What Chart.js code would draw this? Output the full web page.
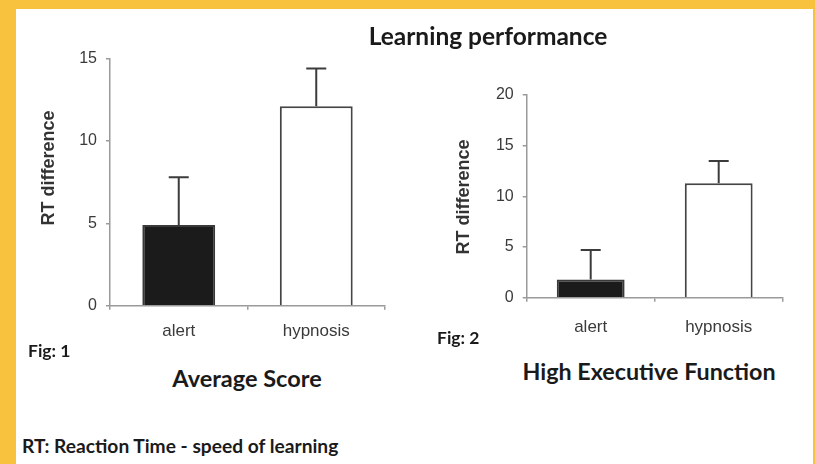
<!DOCTYPE html>
<html>
<head>
<meta charset="utf-8">
<script src="https://cdn.jsdelivr.net/npm/chart.js@4.4.1/dist/chart.umd.min.js"></script>
<style>
  html, body { margin: 0; padding: 0; }
  body { width: 815px; height: 464px; background: #f9c23e; position: relative; overflow: hidden; }
  #panel { position: absolute; left: 16px; top: 9px; width: 797px; height: 455px; background: #fff; }
  .box { position: absolute; }
  .txt { position: absolute; font-family: Lato, "Open Sans", sans-serif; font-weight: bold; color: #1a1a1a; white-space: nowrap; }
  .c { transform: translate(-50%, -50%); }
  .l { transform: translate(0, -50%); }
  .ytitle { position: absolute; font-family: "Liberation Sans", Arial, sans-serif; font-weight: bold; font-size: 18px; color: #333; white-space: nowrap; transform: translate(-50%, -50%) rotate(-90deg); }
</style>
</head>
<body>
<div id="panel"></div>
<div class="box" style="left:20px; top:40px; width:380px; height:310px;"><canvas id="fig1"></canvas></div>
<div class="box" style="left:430px; top:70px; width:380px; height:280px;"><canvas id="fig2"></canvas></div>

<div class="ytitle" style="left:48px; top:168px;">RT difference</div>
<div class="ytitle" style="left:463px; top:197px;">RT difference</div>

<div class="txt c" style="left:488px; top:35px; font-size:24.5px;">Learning performance</div>
<div class="txt l" style="left:28px; top:350px; font-size:17.5px;">Fig: 1</div>
<div class="txt l" style="left:437px; top:337px; font-size:17.5px;">Fig: 2</div>
<div class="txt c" style="left:247px; top:378px; font-size:23.5px;">Average Score</div>
<div class="txt c" style="left:649px; top:371px; font-size:23.3px;">High Executive Function</div>
<div class="txt l" style="left:22px; top:445px; font-size:19.2px;">RT: Reaction Time - speed of learning</div>

<script>
// données
const groups = ['alert', 'hypnosis'];

// Fig 1 : Average Score
const avgMeans = [4.9, 12.1];
const avgErr = [2.9, 2.3];
const avgTicks = [0, 5, 10, 15];

// Fig 2 : High Executive Function
const highMeans = [1.8, 11.3];
const highErr = [2.9, 2.2];
const highTicks = [0, 5, 10, 15, 20];

const barFill = ['#1b1b1b', '#ffffff'];
const barEdge = ['#3a3a3a', '#454545'];
const axisGrey = '#9a9a9a';

// barres d'erreur (vers le haut seulement)
const errorBars = {
  id: 'errorBars',
  afterDatasetsDraw(chart, args, opts) {
    const { ctx } = chart;
    const y = chart.scales.y;
    const meta = chart.getDatasetMeta(0);
    ctx.save();
    ctx.strokeStyle = '#3c3c3c';
    ctx.lineWidth = 2;
    meta.data.forEach((bar, i) => {
      const top = y.getPixelForValue(opts.means[i] + opts.errors[i]);
      ctx.beginPath();
      ctx.moveTo(bar.x, bar.y);
      ctx.lineTo(bar.x, top);
      ctx.moveTo(bar.x - 10, top);
      ctx.lineTo(bar.x + 10, top);
      ctx.stroke();
    });
    ctx.restore();
  }
};

function makeChart(id, means, errors, ticks, pad, yWidth, xHeight, labelPad) {
  return new Chart(document.getElementById(id), {
    type: 'bar',
    data: {
      labels: groups,
      datasets: [{
        data: means,
        backgroundColor: barFill,
        borderColor: barEdge,
        borderWidth: 2,
        barPercentage: 0.53,
        categoryPercentage: 1
      }]
    },
    options: {
      responsive: true,
      maintainAspectRatio: false,
      animation: false,
      events: [],
      layout: { padding: pad },
      plugins: {
        legend: { display: false },
        tooltip: { enabled: false },
        errorBars: { means: means, errors: errors }
      },
      scales: {
        x: {
          grid: { display: true, drawOnChartArea: false, drawTicks: true, tickLength: 4, color: axisGrey, lineWidth: 1.5 },
          border: { display: true, color: axisGrey, width: 1.5 },
          ticks: { color: '#3a3a3a', padding: labelPad, font: { family: '"Liberation Sans", Arial', size: 17 } },
          afterFit: s => { s.height = xHeight; }
        },
        y: {
          min: ticks[0],
          max: ticks[ticks.length - 1],
          afterBuildTicks: s => { s.ticks = ticks.map(v => ({ value: v })); },
          grid: { display: true, drawOnChartArea: false, drawTicks: true, tickLength: 4, color: axisGrey, lineWidth: 1.5 },
          border: { display: true, color: axisGrey, width: 1.5 },
          ticks: { color: '#3a3a3a', padding: 9, font: { family: '"Liberation Sans", Arial', size: 16 } },
          afterFit: s => { s.width = yWidth; }
        }
      }
    },
    plugins: [errorBars]
  });
}

makeChart('fig1', avgMeans, avgErr, avgTicks, { top: 15, right: 15, left: 0, bottom: 0 }, 90, 44.3, 11);
makeChart('fig2', highMeans, highErr, highTicks, { top: 25, right: 27.3, left: 0, bottom: 0 }, 96.7, 52.3, 15);
</script>
</body>
</html>
